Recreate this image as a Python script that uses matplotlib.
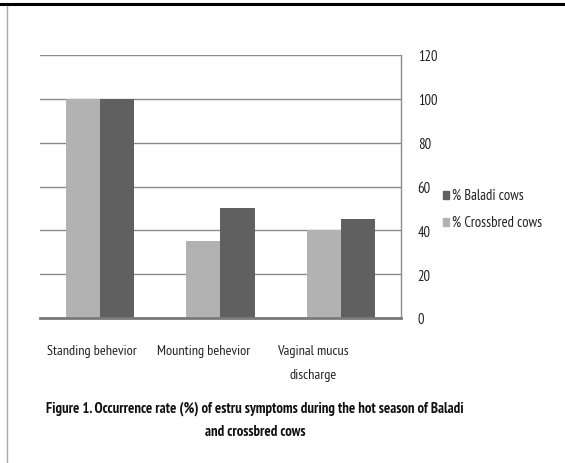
import matplotlib
matplotlib.use("Agg")
import matplotlib.pyplot as plt
from matplotlib.lines import Line2D
from matplotlib.patches import Rectangle
import numpy as np

categories = ["Standing behevior", "Mounting behevior", "Vaginal mucus\ndischarge"]
crossbred = [100, 35, 40]
baladi = [100, 50, 45]
yticks = [0, 20, 40, 60, 80, 100, 120]
series_names = ["% Baladi cows", "% Crossbred cows"]

plt.rcParams['font.family'] = ['PT Sans Narrow', 'Carlito', 'DejaVu Sans']

W, H = 565, 464
fig = plt.figure(figsize=(W / 100, H / 100), dpi=100)

ax = fig.add_axes([40 / W, 1 - 319 / H, 361 / W, 263 / H])
x = np.arange(len(categories))
bw = 0.283
c_light = "#b2b2b2"
c_dark = "#606060"
ax.bar(x - bw / 2, crossbred, bw, color=c_light, zorder=3)
ax.bar(x + bw / 2, baladi, bw, color=c_dark, zorder=3)

ax.set_xlim(-0.5, len(categories) - 0.5)
ax.set_ylim(0, 120)
ax.set_yticks(yticks)
ax.yaxis.tick_right()
ax.tick_params(axis='y', length=0, pad=12, labelsize=10.5, colors="#222222")
for lab in ax.get_yticklabels():
    lab.set_horizontalalignment('left')
ax.grid(axis='y', color="#8a8a8a", linewidth=1.0, zorder=0)
ax.set_xticks([])
for s in ['top', 'left']:
    ax.spines[s].set_visible(False)
ax.spines['right'].set_color("#8a8a8a")
ax.spines['right'].set_linewidth(1.0)
ax.spines['bottom'].set_color("#7a7a7a")
ax.spines['bottom'].set_linewidth(2.0)
ax.spines['bottom'].set_zorder(4)

# category labels (slightly left of the bar groups, as in the reference)
offsets = [0.07, 0.14, 0.23]
for i, (cat, off) in enumerate(zip(categories, offsets)):
    ax.text(i - off, -0.098, cat, transform=ax.get_xaxis_transform(),
            ha='center', va='top', fontsize=10.3, color="#222222", linespacing=2.15)

# legend
fig.patches.append(Rectangle((443 / W, 1 - 200 / H), 6 / W, 8 / H,
                             transform=fig.transFigure, color=c_dark))
fig.patches.append(Rectangle((443 / W, 1 - 227 / H), 6 / W, 8 / H,
                             transform=fig.transFigure, color=c_light))
fig.text(452 / W, 1 - 196 / H, series_names[0], ha='left', va='center',
         fontsize=10.5, color="#222222")
fig.text(452 / W, 1 - 223 / H, series_names[1], ha='left', va='center',
         fontsize=10.5, color="#222222")

# caption
fig.text(255 / W, 1 - 413 / H,
         "Figure 1. Occurrence rate (%) of estru symptoms during the hot season of Baladi",
         ha='center', va='baseline', fontsize=10.6, fontweight='bold', color="#111111")
fig.text(255 / W, 1 - 436 / H, "and crossbred cows",
         ha='center', va='baseline', fontsize=10.6, fontweight='bold', color="#111111")

# page frame lines
fig.lines.append(Line2D([0, 1], [1 - 5 / H, 1 - 5 / H], transform=fig.transFigure,
                        color="black", linewidth=2.2))
fig.lines.append(Line2D([7 / W, 7 / W], [0, 1 - 7 / H], transform=fig.transFigure,
                        color="#a8a8a8", linewidth=1.0))

fig.savefig("out.png", dpi=100)
